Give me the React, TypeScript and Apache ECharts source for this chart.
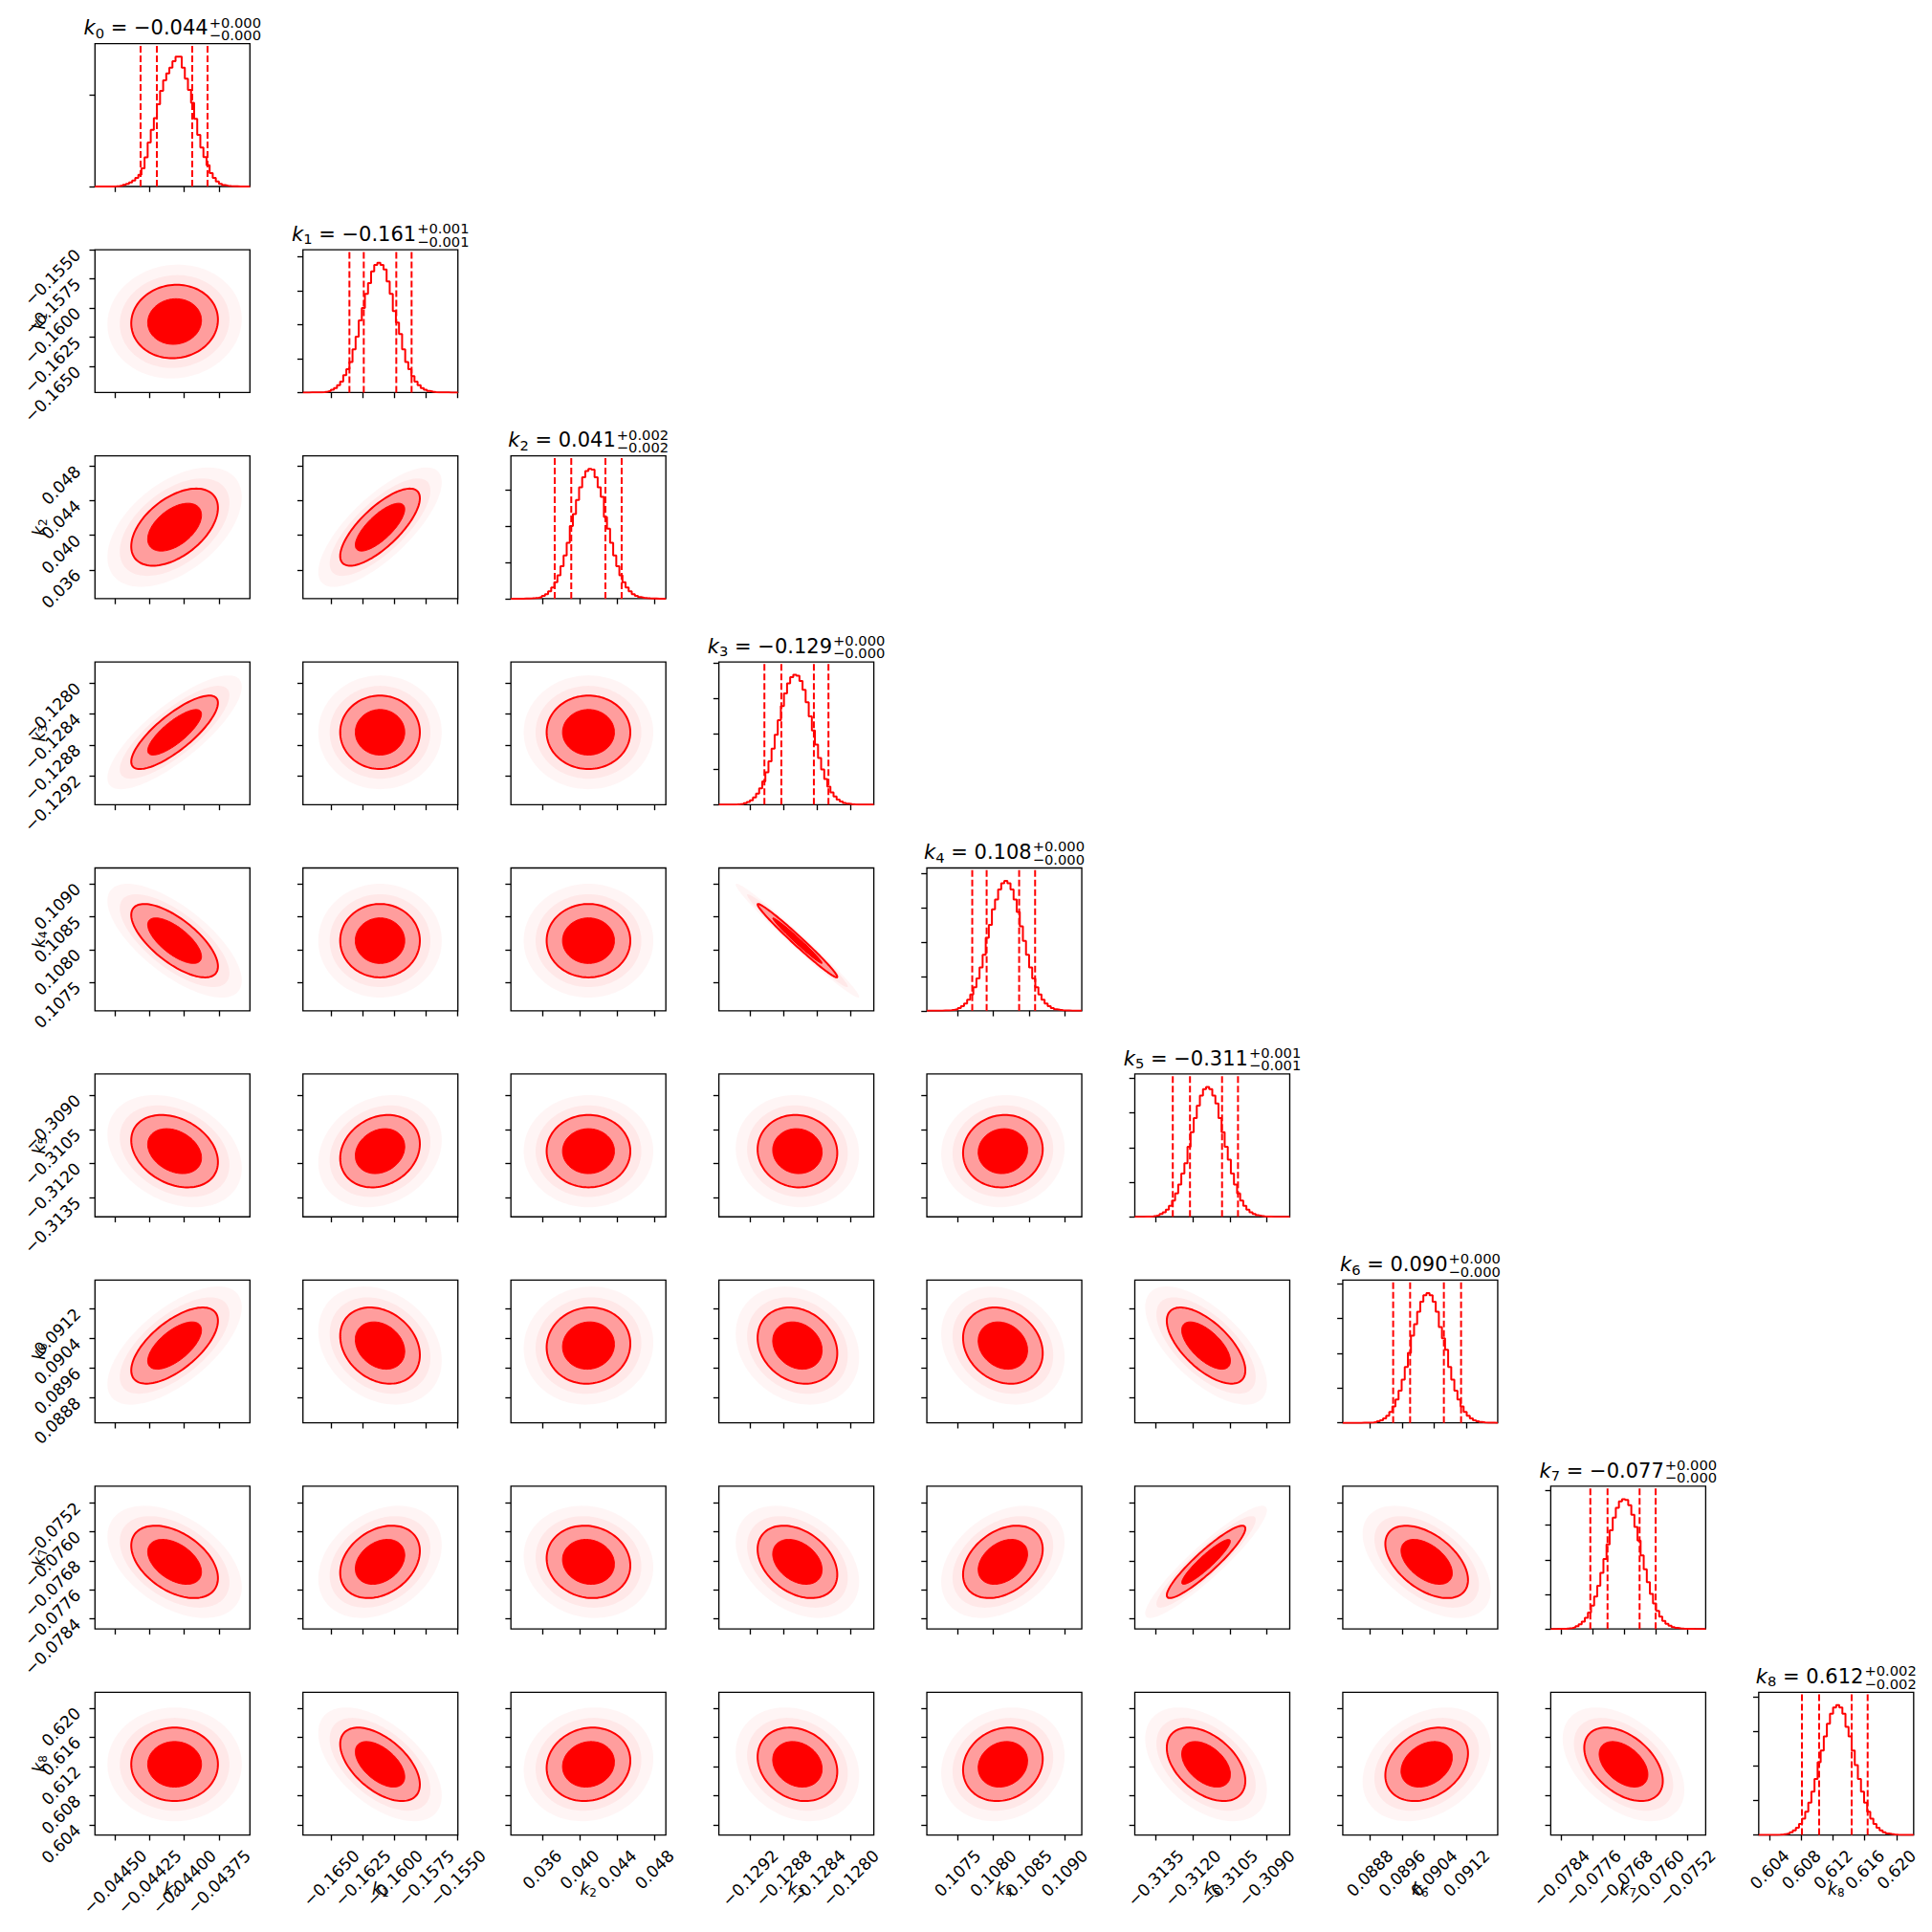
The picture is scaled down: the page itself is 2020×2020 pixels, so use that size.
import React, { useEffect, useRef } from "react";
import * as echarts from "echarts";

// ---------------- data ----------------
const PARAM_INDEX = ["0", "1", "2", "3", "4", "5", "6", "7", "8"];

const AXIS_MIN = [-0.044645, -0.167233, 0.032673, -0.129574, 0.107068, -0.314351, 0.088129, -0.078675, 0.602617];
const AXIS_MAX = [-0.043526, -0.155, 0.0492, -0.127726, 0.109242, -0.308067, 0.091976, -0.074741, 0.622165];

const TICK_VALUES = [
  [-0.0445, -0.04425, -0.044, -0.04375],
  [-0.165, -0.1625, -0.16, -0.1575, -0.155],
  [0.036, 0.04, 0.044, 0.048],
  [-0.1292, -0.1288, -0.1284, -0.128],
  [0.1075, 0.108, 0.1085, 0.109],
  [-0.3135, -0.312, -0.3105, -0.309],
  [0.0888, 0.0896, 0.0904, 0.0912],
  [-0.0784, -0.0776, -0.0768, -0.076, -0.0752],
  [0.604, 0.608, 0.612, 0.616, 0.62],
];
const TICK_LABELS = [
  ["\u22120.04450", "\u22120.04425", "\u22120.04400", "\u22120.04375"],
  ["\u22120.1650", "\u22120.1625", "\u22120.1600", "\u22120.1575", "\u22120.1550"],
  ["0.036", "0.040", "0.044", "0.048"],
  ["\u22120.1292", "\u22120.1288", "\u22120.1284", "\u22120.1280"],
  ["0.1075", "0.1080", "0.1085", "0.1090"],
  ["\u22120.3135", "\u22120.3120", "\u22120.3105", "\u22120.3090"],
  ["0.0888", "0.0896", "0.0904", "0.0912"],
  ["\u22120.0784", "\u22120.0776", "\u22120.0768", "\u22120.0760", "\u22120.0752"],
  ["0.604", "0.608", "0.612", "0.616", "0.620"],
];

const TITLE_VALUES = ["\u22120.044", "\u22120.161", "0.041", "\u22120.129", "0.108", "\u22120.311", "0.090", "\u22120.077", "0.612"];
const TITLE_PLUS = ["+0.000", "+0.001", "+0.002", "+0.000", "+0.000", "+0.001", "+0.000", "+0.000", "+0.002"];
const TITLE_MINUS = ["\u22120.000", "\u22120.001", "\u22120.002", "\u22120.000", "\u22120.000", "\u22120.001", "\u22120.000", "\u22120.000", "\u22120.002"];

// quantile lines (2.5%, 16%, 84%, 97.5%)
const QUANTILES = [
  [-0.0443155, -0.044198, -0.0439426, -0.043832],
  [-0.163563, -0.162431, -0.159863, -0.158655],
  [0.037345, 0.03911, 0.042753, 0.044487],
  [-0.129031, -0.128829, -0.128441, -0.128267],
  [0.107705, 0.107907, 0.108363, 0.108587],
  [-0.312811, -0.312113, -0.310813, -0.310166],
  [0.08938, 0.089801, 0.090639, 0.091066],
  [-0.07767, -0.077233, -0.076419, -0.076011],
  [0.608071, 0.610243, 0.614346, 0.616361],
];

const MEDIANS = [-0.04407, -0.161147, 0.040947, -0.128637, 0.108135, -0.311461, 0.090212, -0.076827, 0.612295];
const SIGMAS = [1.278e-4, 0.001284, 0.001821, 1.939e-4, 2.281e-4, 6.5e-4, 4.19e-4, 4.07e-4, 0.002051];

// correlation of (row param, column param), lower triangle
const CORR = [
  [],
  [0.05],
  [0.5, 0.75],
  [0.8, 0.0, 0.0],
  [-0.7, 0.0, 0.0, -0.985],
  [-0.3, 0.2, 0.0, -0.05, 0.05],
  [0.65, -0.25, 0.05, -0.2, -0.2, -0.65],
  [-0.45, 0.3, -0.1, -0.35, 0.35, 0.92, -0.5],
  [0.0, -0.55, 0.1, -0.2, 0.15, -0.45, 0.3, -0.45],
];

// histogram counts, 50 bins spanning each axis range
const HIST_K0 = [0, 0, 0, 0, 1, 1, 2, 5, 10, 18, 28, 45, 65, 95, 129, 199, 320, 480, 619, 748, 899, 1045, 1161, 1238, 1301, 1370, 1420, 1420, 1300, 1180, 1056, 916, 741, 566, 427, 322, 234, 147, 94, 55, 30, 16, 9, 5, 3, 2, 1, 0, 0, 0];
const HIST_K1 = [0, 0, 1, 1, 2, 3, 6, 11, 18, 32, 54, 86, 130, 205, 275, 360, 509, 659, 850, 996, 1163, 1290, 1429, 1504, 1530, 1504, 1450, 1311, 1163, 960, 825, 690, 509, 360, 275, 193, 130, 86, 54, 32, 18, 11, 6, 3, 2, 1, 1, 0, 0, 0];
const HIST_K2 = [0, 0, 0, 0, 1, 1, 3, 6, 10, 17, 30, 50, 80, 122, 180, 257, 356, 476, 616, 800, 931, 1087, 1226, 1336, 1406, 1430, 1420, 1336, 1226, 1120, 900, 771, 616, 476, 356, 257, 180, 122, 80, 50, 30, 17, 10, 6, 3, 1, 1, 0, 0, 0];
const HIST_K3 = [0, 0, 0, 1, 1, 3, 6, 10, 18, 31, 51, 82, 125, 185, 265, 366, 490, 634, 792, 957, 1117, 1260, 1373, 1445, 1470, 1460, 1400, 1300, 1160, 1000, 840, 680, 530, 400, 290, 205, 140, 92, 58, 36, 21, 12, 7, 4, 2, 1, 1, 0, 0, 0];
const HIST_K4 = [0, 0, 0, 1, 1, 2, 3, 6, 11, 18, 32, 53, 85, 128, 190, 272, 376, 503, 651, 850, 1000, 1180, 1294, 1410, 1484, 1510, 1484, 1410, 1294, 1148, 983, 814, 651, 503, 376, 272, 190, 128, 85, 53, 32, 18, 11, 6, 3, 2, 1, 1, 0, 0];
const HIST_K5 = [0, 0, 1, 2, 3, 6, 11, 18, 32, 53, 84, 128, 189, 270, 374, 500, 620, 809, 977, 1140, 1286, 1401, 1475, 1500, 1475, 1401, 1310, 1140, 977, 809, 660, 500, 374, 270, 189, 128, 84, 53, 32, 18, 11, 6, 3, 2, 1, 1, 0, 0, 0, 0];
const HIST_K6 = [0, 0, 0, 0, 0, 0, 1, 1, 3, 6, 10, 18, 31, 52, 83, 127, 188, 268, 371, 496, 642, 803, 1000, 1132, 1277, 1392, 1465, 1490, 1465, 1392, 1277, 1100, 970, 840, 642, 496, 371, 268, 188, 127, 83, 52, 31, 18, 10, 6, 3, 1, 1, 0];
const HIST_K7 = [0, 0, 1, 2, 3, 6, 11, 18, 32, 53, 84, 128, 189, 270, 374, 500, 647, 809, 977, 1140, 1286, 1401, 1475, 1500, 1490, 1430, 1320, 1180, 1020, 850, 690, 540, 405, 295, 208, 142, 94, 60, 37, 22, 13, 7, 4, 2, 1, 1, 0, 0, 0, 0];
const HIST_K8 = [0, 0, 0, 1, 1, 2, 3, 6, 11, 18, 32, 53, 84, 128, 189, 270, 374, 500, 647, 840, 977, 1140, 1286, 1401, 1475, 1500, 1475, 1401, 1250, 1140, 977, 809, 647, 500, 374, 270, 189, 128, 84, 53, 32, 18, 11, 6, 3, 2, 1, 1, 0, 0];
const HISTS = [HIST_K0, HIST_K1, HIST_K2, HIST_K3, HIST_K4, HIST_K5, HIST_K6, HIST_K7, HIST_K8];
const HIST_TICK_STEP = [1000, 400, 400, 400, 400, 400, 400, 400, 400];

// ---------------- layout / style ----------------
const SIZE = 2020;
const LEFT0 = 99.3;
const COL_STEP = 217.44;
const PW = 162;
const TOP0 = 45.7;
const ROW_STEP = 215.45;
const PH = 149.3;
const FONT = "DejaVu Sans";
const TICK_FS = 17.2;
const TITLE_FS = 21;
const SCRIPT_FS = 14.7;
const LABEL_FS = 17.2;
const LABEL_SUB_FS = 12;
const RED = "#ff0000";
const N = 9;

let measureCtx: CanvasRenderingContext2D | null = null;
function tw(s: string, fs: number, italic = false): number {
  if (!measureCtx) measureCtx = document.createElement("canvas").getContext("2d");
  if (!measureCtx) return s.length * fs * 0.6;
  measureCtx.font = `${italic ? "italic " : ""}${fs}px "${FONT}"`;
  return measureCtx.measureText(s).width;
}

function txt(x: number, baseline: number, text: string, fs: number, italic = false) {
  const y = baseline - 0.35 * fs;
  return {
    type: "text",
    x,
    y,
    silent: true,
    style: {
      text,
      fontSize: fs,
      fontFamily: FONT,
      fontStyle: italic ? "italic" : "normal",
      fill: "#000",
      align: "left",
      verticalAlign: "middle",
      textAlign: "left",
      textVerticalAlign: "middle",
    },
  };
}

function labelFormatter(p: number) {
  return (v: number) => {
    const t = TICK_VALUES[p];
    for (let i = 0; i < t.length; i++) if (Math.abs(t[i] - v) < 1e-9) return TICK_LABELS[p][i];
    return "";
  };
}

function buildOption() {
  const grids: any[] = [];
  const xAxes: any[] = [];
  const yAxes: any[] = [];
  const series: any[] = [];
  const elements: any[] = [];

  const textH = 1.164 * TICK_FS;
  const xMargin = TICK_LABELS.map(
    (ls) => 11.7 + (Math.max(...ls.map((s) => tw(s, TICK_FS))) + textH) / (2 * Math.SQRT2)
  );

  const tickStyle = { color: "#000", width: 1.33 };
  let gi = 0;
  for (let r = 0; r < N; r++) {
    for (let c = 0; c <= r; c++) {
      const left = LEFT0 + c * COL_STEP;
      const top = TOP0 + r * ROW_STEP;
      grids.push({
        left,
        top,
        width: PW,
        height: PH,
        show: true,
        borderColor: "#000",
        borderWidth: 1.33,
        backgroundColor: "transparent",
        containLabel: false,
      });
      xAxes.push({
        gridIndex: gi,
        type: "value",
        min: AXIS_MIN[c],
        max: AXIS_MAX[c],
        axisLine: { show: false },
        splitLine: { show: false },
        axisTick: { show: true, inside: false, length: 5.8, lineStyle: tickStyle, customValues: TICK_VALUES[c] },
        axisLabel: {
          show: r === N - 1,
          customValues: TICK_VALUES[c],
          formatter: labelFormatter(c),
          rotate: 45,
          align: "center",
          verticalAlign: "middle",
          margin: xMargin[c],
          fontFamily: FONT,
          fontSize: TICK_FS,
          color: "#000",
        },
      });
      if (r === c) {
        const counts = HISTS[c];
        const ymax = 1.1 * Math.max(...counts);
        const hticks: number[] = [];
        for (let v = 0; v <= ymax; v += HIST_TICK_STEP[c]) hticks.push(v);
        yAxes.push({
          gridIndex: gi,
          type: "value",
          min: 0,
          max: ymax,
          axisLine: { show: false },
          splitLine: { show: false },
          axisTick: { show: true, inside: false, length: 5.8, lineStyle: tickStyle, customValues: hticks },
          axisLabel: { show: false, customValues: hticks },
        });
        const n = counts.length;
        const w = (AXIS_MAX[c] - AXIS_MIN[c]) / n;
        const data: number[][] = counts.map((v, i) => [AXIS_MIN[c] + i * w, v]);
        data.push([AXIS_MAX[c], counts[n - 1]]);
        series.push({
          type: "line",
          xAxisIndex: gi,
          yAxisIndex: gi,
          data,
          step: "end",
          symbol: "none",
          showSymbol: false,
          silent: true,
          clip: true,
          lineStyle: { color: RED, width: 2 },
        });
        QUANTILES[c].forEach((q) => {
          series.push({
            type: "line",
            xAxisIndex: gi,
            yAxisIndex: gi,
            data: [
              [q, 0],
              [q, ymax],
            ],
            symbol: "none",
            showSymbol: false,
            silent: true,
            clip: true,
            lineStyle: { color: RED, width: 2, type: [7, 3] },
          });
        });
      } else {
        yAxes.push({
          gridIndex: gi,
          type: "value",
          min: AXIS_MIN[r],
          max: AXIS_MAX[r],
          axisLine: { show: false },
          splitLine: { show: false },
          axisTick: { show: true, inside: false, length: 5.8, lineStyle: tickStyle, customValues: TICK_VALUES[r] },
          axisLabel: {
            show: c === 0,
            customValues: TICK_VALUES[r],
            formatter: labelFormatter(r),
            rotate: 45,
            align: "right",
            verticalAlign: "middle",
            padding: [6.9, 3.5, 0, 0],
            margin: 15.6,
            fontFamily: FONT,
            fontSize: TICK_FS,
            color: "#000",
          },
        });
        const mx = MEDIANS[c];
        const my = MEDIANS[r];
        const sx = SIGMAS[c];
        const sy = SIGMAS[r];
        const rho = CORR[r][c];
        series.push({
          type: "custom",
          xAxisIndex: gi,
          yAxisIndex: gi,
          clip: true,
          silent: true,
          data: [[mx, my]],
          renderItem: (_params: any, api: any) => {
            const k = Math.sqrt(1 - rho * rho);
            const ring = (rad: number) => {
              const pts: number[][] = [];
              const steps = 120;
              for (let a = 0; a < steps; a++) {
                const t = (a / steps) * 2 * Math.PI;
                const u = Math.cos(t) * rad;
                const v = Math.sin(t) * rad;
                pts.push(api.coord([mx + sx * u, my + sy * (rho * u + k * v)]));
              }
              return pts;
            };
            return {
              type: "group",
              children: [
                { type: "polygon", shape: { points: ring(3.8) }, style: { fill: "rgba(255,0,0,0.04)" } },
                { type: "polygon", shape: { points: ring(3.1) }, style: { fill: "rgba(255,0,0,0.05)" } },
                {
                  type: "polygon",
                  shape: { points: ring(2.45) },
                  style: { fill: "rgba(255,0,0,0.32)", stroke: RED, lineWidth: 2 },
                },
                { type: "polygon", shape: { points: ring(1.52) }, style: { fill: RED, stroke: RED, lineWidth: 1 } },
              ],
            };
          },
        });
      }
      gi++;
    }
  }

  // titles above the diagonal panels
  for (let i = 0; i < N; i++) {
    const cx = LEFT0 + i * COL_STEP + PW / 2;
    const base = TOP0 + i * ROW_STEP - 9;
    const wk = tw("k", TITLE_FS, true);
    const w0 = tw(PARAM_INDEX[i], SCRIPT_FS);
    const main = " = " + TITLE_VALUES[i];
    const wm = tw(main, TITLE_FS);
    const ws = Math.max(tw(TITLE_PLUS[i], SCRIPT_FS), tw(TITLE_MINUS[i], SCRIPT_FS));
    const total = wk + w0 + wm + ws + 1;
    const x0 = cx - total / 2;
    elements.push(txt(x0, base, "k", TITLE_FS, true));
    elements.push(txt(x0 + wk, base + 2.8, PARAM_INDEX[i], SCRIPT_FS));
    elements.push(txt(x0 + wk + w0, base, main, TITLE_FS));
    elements.push(txt(x0 + wk + w0 + wm + 1, base - 8.4, TITLE_PLUS[i], SCRIPT_FS));
    elements.push(txt(x0 + wk + w0 + wm + 1, base + 5, TITLE_MINUS[i], SCRIPT_FS));
  }

  // x axis labels (bottom row)
  for (let c = 0; c < N; c++) {
    const cx = LEFT0 + c * COL_STEP + PW / 2;
    const base = TOP0 + (N - 1) * ROW_STEP + PH + 62;
    const wk = tw("k", LABEL_FS, true);
    const w0 = tw(PARAM_INDEX[c], LABEL_SUB_FS);
    const x0 = cx - (wk + w0) / 2;
    elements.push(txt(x0, base, "k", LABEL_FS, true));
    elements.push(txt(x0 + wk, base + 2.5, PARAM_INDEX[c], LABEL_SUB_FS));
  }

  // y axis labels (left column, rotated)
  for (let r = 1; r < N; r++) {
    const cy = TOP0 + r * ROW_STEP + PH / 2;
    const wk = tw("k", LABEL_FS, true);
    const w0 = tw(PARAM_INDEX[r], LABEL_SUB_FS);
    const x0 = -(wk + w0) / 2;
    const b = 0.35 * LABEL_FS;
    elements.push({
      type: "group",
      x: 41,
      y: cy,
      rotation: Math.PI / 2,
      silent: true,
      children: [txt(x0, b, "k", LABEL_FS, true), txt(x0 + wk, b + 2.5, PARAM_INDEX[r], LABEL_SUB_FS)],
    });
  }

  return {
    animation: false,
    backgroundColor: "#ffffff",
    grid: grids,
    xAxis: xAxes,
    yAxis: yAxes,
    series,
    graphic: { elements },
  };
}

export default function App() {
  const ref = useRef<HTMLDivElement>(null);
  useEffect(() => {
    if (!ref.current) return;
    const chart = echarts.init(ref.current, undefined, { renderer: "svg", width: SIZE, height: SIZE });
    chart.setOption(buildOption() as any);
    return () => chart.dispose();
  }, []);
  return (
    <div
      ref={ref}
      style={{ position: "absolute", left: 0, top: 0, width: SIZE, height: SIZE, background: "#fff" }}
    />
  );
}
